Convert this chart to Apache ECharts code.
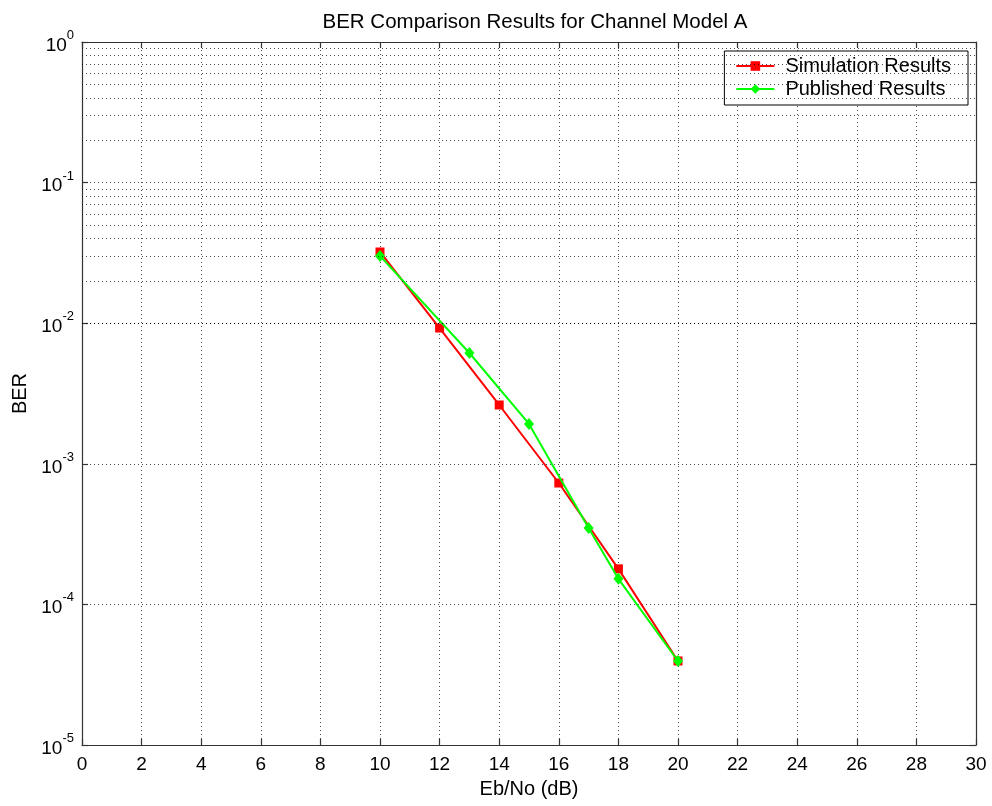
<!DOCTYPE html>
<html>
<head>
<meta charset="utf-8">
<script src="https://cdn.jsdelivr.net/npm/echarts@6/dist/echarts.min.js"></script>
<style>html,body{margin:0;padding:0;background:#fff}#c{width:992px;height:806px}</style>
</head>
<body>
<div id="c"></div>
<script>
const titleText = 'BER Comparison Results for Channel Model A';
const xName = 'Eb/No (dB)';
const yName = 'BER';
const simX = [10, 12, 14, 16, 18, 20];
const simBER = [0.0321, 0.00924, 0.00262, 0.00073, 0.000179, 0.0000396];
const pubX = [10, 13, 15, 17, 18, 20];
const pubBER = [0.0301, 0.00614, 0.00192, 0.000349, 0.000152, 0.0000396];
const minorMant = [2, 3, 4, 5, 6, 7, 8, 9];
const decades = [-5, -4, -3, -2, -1];

const minorLines = [];
decades.forEach(d => minorMant.forEach(m => minorLines.push({ yAxis: m * Math.pow(10, d) })));

const font = 'Liberation Sans, Arial, sans-serif';
const gridDot = { color: '#000', width: 1, type: [1, 3], opacity: 0.7 };
const axisLineStyle = { color: '#333', width: 1.2 };

const chart = echarts.init(document.getElementById('c'), null, { renderer: 'canvas' });
chart.setOption({
  backgroundColor: '#fff',
  animation: false,
  title: {
    text: titleText, left: 530, top: 7, textAlign: 'center',
    textStyle: { fontFamily: font, fontSize: 20.5, fontWeight: 'normal', color: '#000' }
  },
  grid: { left: 82, right: 16, top: 42, bottom: 61, containLabel: false },
  legend: {
    right: 24, top: 51, orient: 'vertical',
    backgroundColor: '#fff', borderColor: '#000', borderWidth: 1,
    padding: [5, 17, 6, 11], itemGap: 3, itemWidth: 38, itemHeight: 12,
    textStyle: { fontFamily: font, fontSize: 20, color: '#000', padding: [0, 0, 0, 6] },
    data: ['Simulation Results', 'Published Results']
  },
  xAxis: [{
    type: 'value', min: 0, max: 30, interval: 2,
    name: xName, nameLocation: 'middle', nameGap: 34,
    nameTextStyle: { fontFamily: font, fontSize: 20, color: '#000' },
    axisLine: { show: true, onZero: false, lineStyle: axisLineStyle },
    axisTick: { show: true, inside: true, length: 6, lineStyle: axisLineStyle },
    axisLabel: { fontFamily: font, fontSize: 19, color: '#000', margin: 10 },
    splitLine: { show: true, lineStyle: gridDot }
  }, {
    type: 'value', min: 0, max: 30, interval: 2, position: 'top',
    axisLine: { show: true, onZero: false, lineStyle: axisLineStyle },
    axisTick: { show: true, inside: true, length: 6, lineStyle: axisLineStyle },
    axisLabel: { show: false }, splitLine: { show: false }
  }],
  yAxis: [{
    type: 'log', logBase: 10, min: 1e-5, max: 1,
    name: yName, nameLocation: 'middle', nameGap: 45, nameRotate: 90,
    nameTextStyle: { fontFamily: font, fontSize: 20, color: '#000' },
    axisLine: { show: true, onZero: false, lineStyle: axisLineStyle },
    axisTick: { show: true, inside: true, length: 6, lineStyle: axisLineStyle },
    axisLabel: {
      margin: 8,
      formatter: v => '{b|10}{s|' + Math.round(Math.log10(v)) + '}',
      rich: {
        b: { fontFamily: font, fontSize: 19, color: '#000', verticalAlign: 'bottom' },
        s: { fontFamily: font, fontSize: 13, color: '#000', verticalAlign: 'top', padding: [0, 0, 13, 0] }
      }
    },
    splitLine: { show: true, lineStyle: gridDot }
  }, {
    type: 'log', logBase: 10, min: 1e-5, max: 1, position: 'right',
    axisLine: { show: true, onZero: false, lineStyle: axisLineStyle },
    axisTick: { show: true, inside: true, length: 6, lineStyle: axisLineStyle },
    axisLabel: { show: false }, splitLine: { show: false }
  }],
  series: [{
    name: 'minor', type: 'line', data: [], silent: true, z: 1,
    markLine: {
      silent: true, symbol: ['none', 'none'], label: { show: false },
      lineStyle: gridDot, emphasis: { disabled: true },
      data: minorLines
    }
  }, {
    name: 'Simulation Results', type: 'line',
    data: simX.map((x, i) => [x, simBER[i]]),
    symbol: 'rect', symbolSize: 9,
    lineStyle: { color: '#ff0000', width: 2 },
    itemStyle: { color: '#ff0000' }, z: 3
  }, {
    name: 'Published Results', type: 'line',
    data: pubX.map((x, i) => [x, pubBER[i]]),
    symbol: 'diamond', symbolSize: [10, 12],
    lineStyle: { color: '#00ff00', width: 2 },
    itemStyle: { color: '#00ff00' }, z: 4
  }]
});
</script>
</body>
</html>
